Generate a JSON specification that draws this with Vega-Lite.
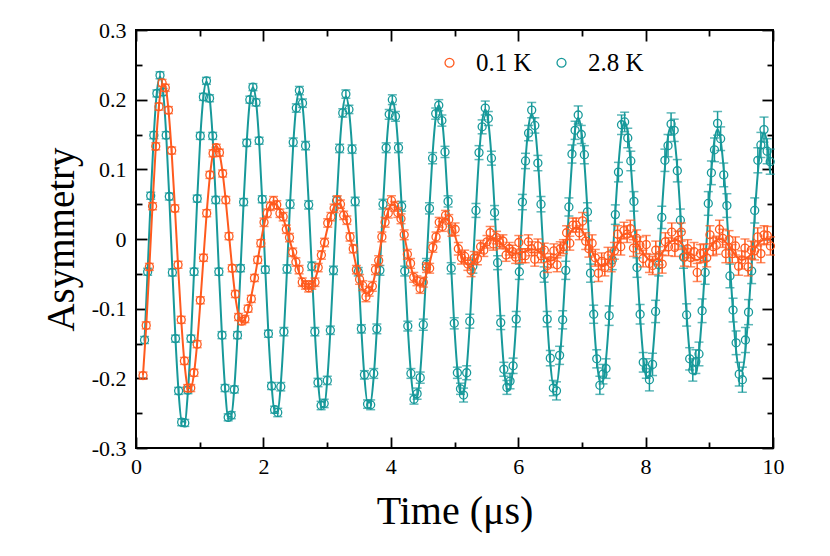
{
"$schema":"https://vega.github.io/schema/vega-lite/v6.json",
"width":637,"height":418,
"autosize":{"type":"none"},
"padding":{"left":136,"top":30,"right":57,"bottom":108},
"background":"white",
"config":{
 "font":"Liberation Serif",
 "view":{"stroke":"#000","strokeWidth":2},
 "axis":{"domain":false,"grid":false,"labelFont":"Liberation Serif","titleFont":"Liberation Serif","labelFontSize":22,"labelColor":"#000","titleColor":"#000","tickColor":"#000","tickWidth":1.8,"titleFontWeight":"normal","labelOverlap":false,"labelFlush":false},
 "legend":{"labelFont":"Liberation Serif","labelFontSize":25,"labelColor":"#000"}
},
"resolve":{"axis":{"x":"independent","y":"independent"}},
"datasets":{
"c":[
{"t":0.134,"a":-0.145,"e":0.005,"f":-0.146},{"t":0.183,"a":-0.047,"e":0.005,"f":-0.045},{"t":0.231,"a":0.062,"e":0.005,"f":0.059},{"t":0.280,"a":0.149,"e":0.005,"f":0.150},{"t":0.328,"a":0.209,"e":0.005,"f":0.211},{"t":0.377,"a":0.235,"e":0.005,"f":0.233},{"t":0.426,"a":0.211,"e":0.005,"f":0.211},{"t":0.474,"a":0.149,"e":0.005,"f":0.150},{"t":0.523,"a":0.061,"e":0.005,"f":0.059},{"t":0.571,"a":-0.048,"e":0.005,"f":-0.045},{"t":0.620,"a":-0.143,"e":0.005,"f":-0.144},{"t":0.669,"a":-0.218,"e":0.005,"f":-0.220},{"t":0.717,"a":-0.263,"e":0.005,"f":-0.262},
{"t":0.766,"a":-0.264,"e":0.005,"f":-0.262},{"t":0.815,"a":-0.217,"e":0.005,"f":-0.219},{"t":0.863,"a":-0.143,"e":0.005,"f":-0.143},{"t":0.912,"a":-0.047,"e":0.005,"f":-0.045},{"t":0.961,"a":0.058,"e":0.005,"f":0.057},{"t":1.009,"a":0.148,"e":0.005,"f":0.145},{"t":1.058,"a":0.204,"e":0.005,"f":0.204},{"t":1.106,"a":0.227,"e":0.005,"f":0.226},{"t":1.155,"a":0.202,"e":0.005,"f":0.204},{"t":1.204,"a":0.148,"e":0.005,"f":0.145},{"t":1.252,"a":0.056,"e":0.005,"f":0.057},{"t":1.301,"a":-0.047,"e":0.005,"f":-0.045},{"t":1.350,"a":-0.138,"e":0.005,"f":-0.140},{"t":1.398,"a":-0.214,"e":0.005,"f":-0.214},{"t":1.447,"a":-0.256,"e":0.005,"f":-0.255},
{"t":1.495,"a":-0.253,"e":0.005,"f":-0.255},{"t":1.544,"a":-0.216,"e":0.005,"f":-0.213},{"t":1.593,"a":-0.138,"e":0.005,"f":-0.139},{"t":1.641,"a":-0.042,"e":0.005,"f":-0.044},{"t":1.690,"a":0.053,"e":0.005,"f":0.054},{"t":1.739,"a":0.138,"e":0.005,"f":0.140},{"t":1.787,"a":0.200,"e":0.005,"f":0.198},{"t":1.836,"a":0.218,"e":0.005,"f":0.218},{"t":1.884,"a":0.196,"e":0.005,"f":0.198},{"t":1.933,"a":0.141,"e":0.005,"f":0.140},{"t":1.982,"a":0.057,"e":0.005,"f":0.054},{"t":2.030,"a":-0.044,"e":0.005,"f":-0.044},{"t":2.079,"a":-0.136,"e":0.005,"f":-0.137},{"t":2.128,"a":-0.211,"e":0.005,"f":-0.209},{"t":2.176,"a":-0.245,"e":0.005,"f":-0.248},
{"t":2.225,"a":-0.249,"e":0.006,"f":-0.248},{"t":2.273,"a":-0.212,"e":0.006,"f":-0.208},{"t":2.322,"a":-0.133,"e":0.006,"f":-0.135},{"t":2.371,"a":-0.043,"e":0.006,"f":-0.043},{"t":2.419,"a":0.050,"e":0.006,"f":0.052},{"t":2.468,"a":0.139,"e":0.006,"f":0.135},{"t":2.517,"a":0.188,"e":0.006,"f":0.192},{"t":2.565,"a":0.213,"e":0.006,"f":0.212},{"t":2.614,"a":0.195,"e":0.006,"f":0.192},{"t":2.662,"a":0.134,"e":0.006,"f":0.135},{"t":2.711,"a":0.049,"e":0.006,"f":0.052},{"t":2.760,"a":-0.039,"e":0.006,"f":-0.043},{"t":2.808,"a":-0.133,"e":0.006,"f":-0.133},{"t":2.857,"a":-0.206,"e":0.006,"f":-0.203},{"t":2.906,"a":-0.239,"e":0.006,"f":-0.241},
{"t":2.954,"a":-0.236,"e":0.006,"f":-0.241},{"t":3.003,"a":-0.203,"e":0.006,"f":-0.202},{"t":3.051,"a":-0.131,"e":0.006,"f":-0.132},{"t":3.100,"a":-0.045,"e":0.006,"f":-0.042},{"t":3.149,"a":0.055,"e":0.006,"f":0.050},{"t":3.197,"a":0.130,"e":0.006,"f":0.131},{"t":3.246,"a":0.181,"e":0.006,"f":0.185},{"t":3.295,"a":0.208,"e":0.006,"f":0.205},{"t":3.343,"a":0.186,"e":0.006,"f":0.185},{"t":3.392,"a":0.129,"e":0.006,"f":0.131},{"t":3.441,"a":0.054,"e":0.006,"f":0.050},{"t":3.489,"a":-0.047,"e":0.006,"f":-0.042},{"t":3.538,"a":-0.129,"e":0.006,"f":-0.130},{"t":3.586,"a":-0.195,"e":0.006,"f":-0.198},{"t":3.635,"a":-0.237,"e":0.006,"f":-0.235},
{"t":3.684,"a":-0.238,"e":0.007,"f":-0.234},{"t":3.732,"a":-0.193,"e":0.007,"f":-0.197},{"t":3.781,"a":-0.129,"e":0.007,"f":-0.129},{"t":3.829,"a":-0.045,"e":0.007,"f":-0.042},{"t":3.878,"a":0.050,"e":0.007,"f":0.048},{"t":3.927,"a":0.131,"e":0.007,"f":0.126},{"t":3.975,"a":0.179,"e":0.007,"f":0.179},{"t":4.024,"a":0.200,"e":0.007,"f":0.198},{"t":4.073,"a":0.176,"e":0.007,"f":0.179},{"t":4.121,"a":0.131,"e":0.007,"f":0.126},{"t":4.170,"a":0.047,"e":0.007,"f":0.048},{"t":4.219,"a":-0.046,"e":0.007,"f":-0.042},{"t":4.267,"a":-0.125,"e":0.007,"f":-0.127},{"t":4.316,"a":-0.193,"e":0.007,"f":-0.193},{"t":4.364,"a":-0.230,"e":0.007,"f":-0.228},
{"t":4.413,"a":-0.222,"e":0.008,"f":-0.228},{"t":4.462,"a":-0.199,"e":0.008,"f":-0.192},{"t":4.510,"a":-0.123,"e":0.008,"f":-0.125},{"t":4.559,"a":-0.036,"e":0.008,"f":-0.041},{"t":4.607,"a":0.044,"e":0.008,"f":0.046},{"t":4.656,"a":0.116,"e":0.008,"f":0.122},{"t":4.705,"a":0.180,"e":0.008,"f":0.174},{"t":4.753,"a":0.192,"e":0.008,"f":0.192},{"t":4.802,"a":0.170,"e":0.008,"f":0.174},{"t":4.851,"a":0.125,"e":0.008,"f":0.122},{"t":4.899,"a":0.054,"e":0.008,"f":0.046},{"t":4.948,"a":-0.042,"e":0.008,"f":-0.041},{"t":4.996,"a":-0.121,"e":0.008,"f":-0.123},{"t":5.045,"a":-0.192,"e":0.008,"f":-0.187},{"t":5.094,"a":-0.215,"e":0.008,"f":-0.222},
{"t":5.142,"a":-0.224,"e":0.010,"f":-0.222},{"t":5.191,"a":-0.192,"e":0.010,"f":-0.186},{"t":5.240,"a":-0.118,"e":0.010,"f":-0.122},{"t":5.288,"a":-0.039,"e":0.010,"f":-0.040},{"t":5.337,"a":0.041,"e":0.010,"f":0.044},{"t":5.385,"a":0.124,"e":0.010,"f":0.118},{"t":5.434,"a":0.161,"e":0.010,"f":0.168},{"t":5.483,"a":0.188,"e":0.010,"f":0.186},{"t":5.531,"a":0.173,"e":0.010,"f":0.168},{"t":5.580,"a":0.116,"e":0.010,"f":0.118},{"t":5.629,"a":0.038,"e":0.010,"f":0.044},{"t":5.677,"a":-0.034,"e":0.010,"f":-0.040},{"t":5.726,"a":-0.120,"e":0.010,"f":-0.120},{"t":5.775,"a":-0.187,"e":0.010,"f":-0.183},{"t":5.823,"a":-0.213,"e":0.010,"f":-0.216},
{"t":5.872,"a":-0.204,"e":0.011,"f":-0.216},{"t":5.920,"a":-0.182,"e":0.011,"f":-0.181},{"t":5.969,"a":-0.115,"e":0.011,"f":-0.119},{"t":6.018,"a":-0.047,"e":0.011,"f":-0.040},{"t":6.066,"a":0.053,"e":0.011,"f":0.042},{"t":6.115,"a":0.112,"e":0.011,"f":0.114},{"t":6.163,"a":0.152,"e":0.011,"f":0.162},{"t":6.212,"a":0.185,"e":0.011,"f":0.179},{"t":6.261,"a":0.163,"e":0.011,"f":0.162},{"t":6.309,"a":0.109,"e":0.011,"f":0.114},{"t":6.358,"a":0.050,"e":0.011,"f":0.042},{"t":6.407,"a":-0.051,"e":0.011,"f":-0.040},{"t":6.455,"a":-0.115,"e":0.011,"f":-0.117},{"t":6.504,"a":-0.171,"e":0.011,"f":-0.178},{"t":6.552,"a":-0.214,"e":0.011,"f":-0.210},
{"t":6.601,"a":-0.218,"e":0.013,"f":-0.210},{"t":6.650,"a":-0.167,"e":0.013,"f":-0.177},{"t":6.698,"a":-0.116,"e":0.013,"f":-0.116},{"t":6.747,"a":-0.045,"e":0.013,"f":-0.039},{"t":6.796,"a":0.046,"e":0.013,"f":0.041},{"t":6.844,"a":0.122,"e":0.013,"f":0.110},{"t":6.893,"a":0.156,"e":0.013,"f":0.157},{"t":6.942,"a":0.178,"e":0.013,"f":0.174},{"t":6.990,"a":0.150,"e":0.013,"f":0.157},{"t":7.039,"a":0.121,"e":0.013,"f":0.110},{"t":7.087,"a":0.039,"e":0.013,"f":0.041},{"t":7.136,"a":-0.049,"e":0.013,"f":-0.039},{"t":7.185,"a":-0.108,"e":0.013,"f":-0.114},{"t":7.233,"a":-0.172,"e":0.013,"f":-0.173},{"t":7.282,"a":-0.210,"e":0.013,"f":-0.205},
{"t":7.331,"a":-0.194,"e":0.014,"f":-0.204},{"t":7.379,"a":-0.186,"e":0.014,"f":-0.172},{"t":7.428,"a":-0.110,"e":0.014,"f":-0.113},{"t":7.476,"a":-0.030,"e":0.014,"f":-0.039},{"t":7.525,"a":0.035,"e":0.014,"f":0.039},{"t":7.574,"a":0.096,"e":0.014,"f":0.106},{"t":7.622,"a":0.164,"e":0.014,"f":0.152},{"t":7.671,"a":0.168,"e":0.014,"f":0.168},{"t":7.720,"a":0.145,"e":0.014,"f":0.152},{"t":7.768,"a":0.112,"e":0.014,"f":0.106},{"t":7.817,"a":0.054,"e":0.014,"f":0.039},{"t":7.865,"a":-0.041,"e":0.014,"f":-0.039},{"t":7.914,"a":-0.108,"e":0.014,"f":-0.112},{"t":7.963,"a":-0.177,"e":0.014,"f":-0.168},{"t":8.011,"a":-0.186,"e":0.014,"f":-0.199},
{"t":8.060,"a":-0.202,"e":0.016,"f":-0.199},{"t":8.109,"a":-0.180,"e":0.016,"f":-0.168},{"t":8.157,"a":-0.104,"e":0.016,"f":-0.111},{"t":8.206,"a":-0.037,"e":0.016,"f":-0.038},{"t":8.254,"a":0.031,"e":0.016,"f":0.037},{"t":8.303,"a":0.113,"e":0.016,"f":0.102},{"t":8.352,"a":0.134,"e":0.016,"f":0.147},{"t":8.400,"a":0.165,"e":0.016,"f":0.162},{"t":8.449,"a":0.156,"e":0.016,"f":0.147},{"t":8.498,"a":0.098,"e":0.016,"f":0.102},{"t":8.546,"a":0.027,"e":0.016,"f":0.037},{"t":8.595,"a":-0.026,"e":0.016,"f":-0.038},{"t":8.644,"a":-0.109,"e":0.016,"f":-0.109},{"t":8.692,"a":-0.172,"e":0.016,"f":-0.164},{"t":8.741,"a":-0.188,"e":0.016,"f":-0.194},
{"t":8.789,"a":-0.176,"e":0.017,"f":-0.194},{"t":8.838,"a":-0.165,"e":0.017,"f":-0.163},{"t":8.887,"a":-0.103,"e":0.017,"f":-0.108},{"t":8.935,"a":-0.048,"e":0.017,"f":-0.037},{"t":8.984,"a":0.051,"e":0.017,"f":0.035},{"t":9.033,"a":0.095,"e":0.017,"f":0.099},{"t":9.081,"a":0.128,"e":0.017,"f":0.142},{"t":9.130,"a":0.166,"e":0.017,"f":0.157},{"t":9.178,"a":0.144,"e":0.017,"f":0.142},{"t":9.227,"a":0.092,"e":0.017,"f":0.099},{"t":9.276,"a":0.048,"e":0.017,"f":0.035},{"t":9.324,"a":-0.053,"e":0.017,"f":-0.037},{"t":9.373,"a":-0.102,"e":0.017,"f":-0.106},{"t":9.421,"a":-0.149,"e":0.017,"f":-0.160},{"t":9.470,"a":-0.194,"e":0.017,"f":-0.189},
{"t":9.519,"a":-0.202,"e":0.018,"f":-0.189},{"t":9.567,"a":-0.145,"e":0.018,"f":-0.159},{"t":9.616,"a":-0.105,"e":0.018,"f":-0.105},{"t":9.665,"a":-0.046,"e":0.018,"f":-0.037},{"t":9.713,"a":0.041,"e":0.018,"f":0.034},{"t":9.762,"a":0.113,"e":0.018,"f":0.095},{"t":9.810,"a":0.135,"e":0.018,"f":0.137},{"t":9.859,"a":0.157,"e":0.018,"f":0.152},{"t":9.908,"a":0.126,"e":0.018,"f":0.137},{"t":9.956,"a":0.111,"e":0.018,"f":0.095}
],
"o":[
{"t":0.11,"a":-0.196,"e":0.005,"f":-0.195},{"t":0.16,"a":-0.124,"e":0.005,"f":-0.126},{"t":0.21,"a":-0.040,"e":0.005,"f":-0.040},{"t":0.26,"a":0.047,"e":0.005,"f":0.050},{"t":0.31,"a":0.133,"e":0.005,"f":0.131},{"t":0.36,"a":0.190,"e":0.005,"f":0.191},{"t":0.41,"a":0.224,"e":0.005,"f":0.222},{"t":0.46,"a":0.217,"e":0.005,"f":0.219},{"t":0.51,"a":0.185,"e":0.005,"f":0.185},{"t":0.56,"a":0.127,"e":0.005,"f":0.124},
{"t":0.61,"a":0.044,"e":0.005,"f":0.046},{"t":0.66,"a":-0.037,"e":0.005,"f":-0.038},{"t":0.71,"a":-0.116,"e":0.005,"f":-0.116},{"t":0.76,"a":-0.175,"e":0.005,"f":-0.177},{"t":0.81,"a":-0.214,"e":0.005,"f":-0.211},{"t":0.86,"a":-0.214,"e":0.005,"f":-0.215},{"t":0.91,"a":-0.192,"e":0.005,"f":-0.193},{"t":0.96,"a":-0.151,"e":0.005,"f":-0.150},{"t":1.01,"a":-0.088,"e":0.005,"f":-0.091},{"t":1.06,"a":-0.027,"e":0.005,"f":-0.026},
{"t":1.11,"a":0.037,"e":0.005,"f":0.038},{"t":1.16,"a":0.092,"e":0.005,"f":0.090},{"t":1.21,"a":0.123,"e":0.005,"f":0.123},{"t":1.26,"a":0.131,"e":0.005,"f":0.134},{"t":1.31,"a":0.124,"e":0.005,"f":0.123},{"t":1.36,"a":0.094,"e":0.005,"f":0.095},{"t":1.41,"a":0.056,"e":0.005,"f":0.054},{"t":1.46,"a":0.004,"e":0.005,"f":0.006},{"t":1.51,"a":-0.042,"e":0.005,"f":-0.042},{"t":1.56,"a":-0.079,"e":0.005,"f":-0.083},
{"t":1.61,"a":-0.112,"e":0.005,"f":-0.109},{"t":1.66,"a":-0.118,"e":0.005,"f":-0.119},{"t":1.71,"a":-0.115,"e":0.005,"f":-0.115},{"t":1.76,"a":-0.100,"e":0.005,"f":-0.102},{"t":1.81,"a":-0.086,"e":0.005,"f":-0.082},{"t":1.86,"a":-0.056,"e":0.005,"f":-0.058},{"t":1.91,"a":-0.030,"e":0.005,"f":-0.031},{"t":1.96,"a":-0.006,"e":0.005,"f":-0.004},{"t":2.01,"a":0.024,"e":0.006,"f":0.020},{"t":2.06,"a":0.037,"e":0.006,"f":0.038},
{"t":2.11,"a":0.047,"e":0.006,"f":0.049},{"t":2.16,"a":0.055,"e":0.006,"f":0.052},{"t":2.21,"a":0.049,"e":0.006,"f":0.049},{"t":2.26,"a":0.037,"e":0.006,"f":0.041},{"t":2.31,"a":0.032,"e":0.006,"f":0.030},{"t":2.36,"a":0.014,"e":0.006,"f":0.015},{"t":2.41,"a":0.002,"e":0.006,"f":-0.001},{"t":2.46,"a":-0.019,"e":0.006,"f":-0.017},{"t":2.51,"a":-0.033,"e":0.006,"f":-0.033},{"t":2.56,"a":-0.044,"e":0.006,"f":-0.048},
{"t":2.61,"a":-0.062,"e":0.006,"f":-0.059},{"t":2.66,"a":-0.066,"e":0.006,"f":-0.067},{"t":2.71,"a":-0.070,"e":0.006,"f":-0.070},{"t":2.76,"a":-0.066,"e":0.006,"f":-0.068},{"t":2.81,"a":-0.062,"e":0.006,"f":-0.058},{"t":2.86,"a":-0.041,"e":0.006,"f":-0.043},{"t":2.91,"a":-0.023,"e":0.006,"f":-0.024},{"t":2.96,"a":-0.005,"e":0.006,"f":-0.003},{"t":3.01,"a":0.023,"e":0.006,"f":0.017},{"t":3.06,"a":0.032,"e":0.006,"f":0.034},
{"t":3.11,"a":0.044,"e":0.006,"f":0.046},{"t":3.16,"a":0.056,"e":0.006,"f":0.051},{"t":3.21,"a":0.050,"e":0.006,"f":0.049},{"t":3.26,"a":0.034,"e":0.006,"f":0.039},{"t":3.31,"a":0.027,"e":0.006,"f":0.024},{"t":3.36,"a":0.003,"e":0.006,"f":0.004},{"t":3.41,"a":-0.014,"e":0.006,"f":-0.018},{"t":3.46,"a":-0.044,"e":0.006,"f":-0.040},{"t":3.51,"a":-0.058,"e":0.007,"f":-0.058},{"t":3.56,"a":-0.067,"e":0.007,"f":-0.072},
{"t":3.61,"a":-0.083,"e":0.007,"f":-0.078},{"t":3.66,"a":-0.075,"e":0.007,"f":-0.077},{"t":3.71,"a":-0.068,"e":0.007,"f":-0.067},{"t":3.76,"a":-0.044,"e":0.007,"f":-0.048},{"t":3.81,"a":-0.031,"e":0.007,"f":-0.025},{"t":3.86,"a":0.003,"e":0.007,"f":0.001},{"t":3.91,"a":0.024,"e":0.007,"f":0.023},{"t":3.96,"a":0.037,"e":0.007,"f":0.040},{"t":4.01,"a":0.055,"e":0.007,"f":0.049},{"t":4.06,"a":0.047,"e":0.007,"f":0.049},
{"t":4.11,"a":0.038,"e":0.007,"f":0.040},{"t":4.16,"a":0.029,"e":0.007,"f":0.024},{"t":4.21,"a":0.006,"e":0.007,"f":0.005},{"t":4.26,"a":-0.022,"e":0.007,"f":-0.017},{"t":4.31,"a":-0.035,"e":0.007,"f":-0.038},{"t":4.36,"a":-0.055,"e":0.007,"f":-0.054},{"t":4.41,"a":-0.060,"e":0.007,"f":-0.064},{"t":4.46,"a":-0.071,"e":0.007,"f":-0.067},{"t":4.51,"a":-0.062,"e":0.007,"f":-0.062},{"t":4.56,"a":-0.041,"e":0.007,"f":-0.050},
{"t":4.61,"a":-0.042,"e":0.007,"f":-0.034},{"t":4.66,"a":-0.012,"e":0.007,"f":-0.015},{"t":4.71,"a":0.003,"e":0.007,"f":0.004},{"t":4.76,"a":0.024,"e":0.007,"f":0.018},{"t":4.81,"a":0.018,"e":0.007,"f":0.028},{"t":4.86,"a":0.034,"e":0.007,"f":0.030},{"t":4.91,"a":0.028,"e":0.007,"f":0.026},{"t":4.96,"a":0.011,"e":0.007,"f":0.016},{"t":5.01,"a":0.014,"e":0.009,"f":0.004},{"t":5.06,"a":-0.014,"e":0.009,"f":-0.011},
{"t":5.11,"a":-0.027,"e":0.009,"f":-0.023},{"t":5.16,"a":-0.025,"e":0.009,"f":-0.033},{"t":5.21,"a":-0.036,"e":0.009,"f":-0.037},{"t":5.26,"a":-0.045,"e":0.009,"f":-0.036},{"t":5.31,"a":-0.027,"e":0.009,"f":-0.032},{"t":5.36,"a":-0.028,"e":0.009,"f":-0.026},{"t":5.41,"a":-0.011,"e":0.009,"f":-0.018},{"t":5.46,"a":-0.016,"e":0.009,"f":-0.010},{"t":5.51,"a":-0.004,"e":0.009,"f":-0.004},{"t":5.56,"a":0.009,"e":0.009,"f":0.000},
{"t":5.61,"a":-0.007,"e":0.009,"f":0.001},{"t":5.66,"a":0.002,"e":0.009,"f":-0.001},{"t":5.71,"a":-0.005,"e":0.009,"f":-0.004},{"t":5.76,"a":-0.003,"e":0.009,"f":-0.009},{"t":5.81,"a":-0.023,"e":0.009,"f":-0.013},{"t":5.86,"a":-0.014,"e":0.009,"f":-0.018},{"t":5.91,"a":-0.018,"e":0.009,"f":-0.020},{"t":5.96,"a":-0.026,"e":0.009,"f":-0.021},{"t":6.01,"a":-0.005,"e":0.010,"f":-0.020},{"t":6.06,"a":-0.024,"e":0.010,"f":-0.019},
{"t":6.11,"a":-0.024,"e":0.010,"f":-0.018},{"t":6.16,"a":-0.004,"e":0.010,"f":-0.016},{"t":6.21,"a":-0.014,"e":0.010,"f":-0.015},{"t":6.26,"a":-0.029,"e":0.010,"f":-0.015},{"t":6.31,"a":-0.010,"e":0.010,"f":-0.017},{"t":6.36,"a":-0.024,"e":0.010,"f":-0.021},{"t":6.41,"a":-0.016,"e":0.010,"f":-0.026},{"t":6.46,"a":-0.038,"e":0.010,"f":-0.029},{"t":6.51,"a":-0.031,"e":0.010,"f":-0.031},{"t":6.56,"a":-0.017,"e":0.010,"f":-0.030},
{"t":6.61,"a":-0.037,"e":0.010,"f":-0.025},{"t":6.66,"a":-0.014,"e":0.010,"f":-0.018},{"t":6.71,"a":-0.011,"e":0.010,"f":-0.009},{"t":6.76,"a":0.009,"e":0.010,"f":0.000},{"t":6.81,"a":-0.006,"e":0.010,"f":0.009},{"t":6.86,"a":0.020,"e":0.010,"f":0.014},{"t":6.91,"a":0.020,"e":0.010,"f":0.017},{"t":6.96,"a":0.009,"e":0.010,"f":0.016},{"t":7.01,"a":0.026,"e":0.012,"f":0.011},{"t":7.06,"a":-0.003,"e":0.012,"f":0.002},
{"t":7.11,"a":-0.014,"e":0.012,"f":-0.008},{"t":7.16,"a":-0.006,"e":0.012,"f":-0.018},{"t":7.21,"a":-0.027,"e":0.012,"f":-0.028},{"t":7.26,"a":-0.049,"e":0.012,"f":-0.035},{"t":7.31,"a":-0.032,"e":0.012,"f":-0.039},{"t":7.36,"a":-0.041,"e":0.012,"f":-0.038},{"t":7.41,"a":-0.024,"e":0.012,"f":-0.034},{"t":7.46,"a":-0.035,"e":0.012,"f":-0.026},{"t":7.51,"a":-0.017,"e":0.012,"f":-0.017},{"t":7.56,"a":0.007,"e":0.012,"f":-0.007},
{"t":7.61,"a":-0.011,"e":0.012,"f":0.001},{"t":7.66,"a":0.012,"e":0.012,"f":0.007},{"t":7.71,"a":0.007,"e":0.012,"f":0.008},{"t":7.76,"a":0.015,"e":0.012,"f":0.006},{"t":7.81,"a":-0.013,"e":0.012,"f":0.002},{"t":7.86,"a":0.001,"e":0.012,"f":-0.005},{"t":7.91,"a":-0.009,"e":0.012,"f":-0.012},{"t":7.96,"a":-0.028,"e":0.012,"f":-0.020},{"t":8.01,"a":-0.008,"e":0.013,"f":-0.026},{"t":8.06,"a":-0.035,"e":0.013,"f":-0.030},
{"t":8.11,"a":-0.038,"e":0.013,"f":-0.031},{"t":8.16,"a":-0.016,"e":0.013,"f":-0.030},{"t":8.21,"a":-0.024,"e":0.013,"f":-0.026},{"t":8.26,"a":-0.036,"e":0.013,"f":-0.020},{"t":8.31,"a":-0.004,"e":0.013,"f":-0.013},{"t":8.36,"a":-0.011,"e":0.013,"f":-0.007},{"t":8.41,"a":0.010,"e":0.013,"f":-0.003},{"t":8.46,"a":-0.012,"e":0.013,"f":-0.001},{"t":8.51,"a":-0.002,"e":0.013,"f":-0.002},{"t":8.56,"a":0.010,"e":0.013,"f":-0.006},
{"t":8.61,"a":-0.026,"e":0.013,"f":-0.012},{"t":8.66,"a":-0.014,"e":0.013,"f":-0.019},{"t":8.71,"a":-0.027,"e":0.013,"f":-0.025},{"t":8.76,"a":-0.018,"e":0.013,"f":-0.029},{"t":8.81,"a":-0.048,"e":0.013,"f":-0.030},{"t":8.86,"a":-0.021,"e":0.013,"f":-0.028},{"t":8.91,"a":-0.020,"e":0.013,"f":-0.024},{"t":8.96,"a":-0.027,"e":0.013,"f":-0.018},{"t":9.01,"a":0.006,"e":0.013,"f":-0.012},{"t":9.06,"a":-0.011,"e":0.013,"f":-0.006},
{"t":9.11,"a":-0.009,"e":0.013,"f":-0.002},{"t":9.16,"a":0.014,"e":0.013,"f":0.000},{"t":9.21,"a":0.001,"e":0.013,"f":-0.001},{"t":9.26,"a":-0.021,"e":0.013,"f":-0.005},{"t":9.31,"a":-0.001,"e":0.013,"f":-0.010},{"t":9.36,"a":-0.021,"e":0.013,"f":-0.017},{"t":9.41,"a":-0.010,"e":0.013,"f":-0.023},{"t":9.46,"a":-0.039,"e":0.013,"f":-0.028},{"t":9.51,"a":-0.030,"e":0.013,"f":-0.030},{"t":9.56,"a":-0.013,"e":0.013,"f":-0.029},
{"t":9.61,"a":-0.040,"e":0.013,"f":-0.026},{"t":9.66,"a":-0.016,"e":0.013,"f":-0.021},{"t":9.71,"a":-0.017,"e":0.013,"f":-0.015},{"t":9.76,"a":0.003,"e":0.013,"f":-0.008},{"t":9.81,"a":-0.021,"e":0.013,"f":-0.003},{"t":9.86,"a":0.006,"e":0.013,"f":-0.001},{"t":9.91,"a":0.005,"e":0.013,"f":0.001},{"t":9.96,"a":-0.010,"e":0.013,"f":-0.001}
]
},
"layer":[
{"data":{"name":"c"},
 "mark":{"type":"errorbar","color":"#17999a","thickness":1.5,"ticks":{"size":9,"thickness":1.5}},
 "encoding":{
  "x":{"field":"t","type":"quantitative","scale":{"domain":[0,10],"nice":false},
   "axis":{"orient":"bottom","values":[0,1,2,3,4,5,6,7,8,9,10],"labelExpr":"datum.value % 2 == 0 ? format(datum.value, 'd') : ''","tickSize":{"condition":{"test":"datum.value % 2 == 0","value":-11},"value":-6},"labelPadding":19,"labelFont":"Liberation Serif","titleFont":"Liberation Serif","title":"Time (μs)","titleFontSize":40,"titlePadding":9}},
  "y":{"field":"a","type":"quantitative","scale":{"domain":[-0.3,0.3],"nice":false},
   "axis":{"orient":"left","values":[-0.3,-0.25,-0.2,-0.15,-0.1,-0.05,0,0.05,0.1,0.15,0.2,0.25,0.3],"labelExpr":"abs(round(datum.value*20)) % 2 == 0 ? (abs(datum.value) < 0.001 ? '0' : (datum.value < 0 ? '-' : '') + format(abs(datum.value), '.1f')) : ''","tickSize":{"condition":{"test":"abs(round(datum.value*20)) % 2 == 0","value":-11},"value":-6},"labelPadding":21,"labelFont":"Liberation Serif","titleFont":"Liberation Serif","title":"Asymmetry","titleFontSize":39,"titlePadding":10}},
  "yError":{"field":"e"}}},
{"data":{"name":"c"},
 "mark":{"type":"point","filled":false,"size":64,"strokeWidth":1.3,"opacity":1},
 "encoding":{
  "x":{"field":"t","type":"quantitative","scale":{"domain":[0,10],"nice":false},
   "axis":{"orient":"top","values":[0,1,2,3,4,5,6,7,8,9,10],"labels":false,"title":null,"tickSize":{"condition":{"test":"datum.value % 2 == 0","value":-11},"value":-6}}},
  "y":{"field":"a","type":"quantitative","scale":{"domain":[-0.3,0.3],"nice":false},
   "axis":{"orient":"right","values":[-0.3,-0.25,-0.2,-0.15,-0.1,-0.05,0,0.05,0.1,0.15,0.2,0.25,0.3],"labels":false,"title":null,"tickSize":{"condition":{"test":"abs(round(datum.value*20)) % 2 == 0","value":-11},"value":-6}}},
  "color":{"datum":"2.8 K","type":"nominal","scale":{"domain":["0.1 K","2.8 K"],"range":["#ff5a1e","#17999a"]},
   "legend":{"orient":"none","legendX":301,"legendY":20,"direction":"horizontal","title":null,"symbolType":"circle","symbolSize":80,"symbolStrokeWidth":1.3,"labelOffset":14,"columnPadding":17,"labelFont":"Liberation Serif","labelFontSize":25,"labelColor":"#000"}}}},
{"data":{"name":"c"},
 "mark":{"type":"line","color":"#17999a","strokeWidth":2,"interpolate":"monotone"},
 "encoding":{"x":{"field":"t","type":"quantitative","axis":null},"y":{"field":"f","type":"quantitative","axis":null}}},
{"data":{"name":"o"},
 "mark":{"type":"errorbar","color":"#ff5a1e","thickness":1.5,"ticks":{"size":9,"thickness":1.5}},
 "encoding":{"x":{"field":"t","type":"quantitative","axis":null},"y":{"field":"a","type":"quantitative","axis":null},"yError":{"field":"e"}}},
{"data":{"name":"o"},
 "mark":{"type":"point","filled":false,"size":64,"strokeWidth":1.3,"opacity":1},
 "encoding":{"x":{"field":"t","type":"quantitative","axis":null},"y":{"field":"a","type":"quantitative","axis":null},
  "color":{"datum":"0.1 K","type":"nominal"}}},
{"data":{"name":"o"},
 "mark":{"type":"line","color":"#ff5a1e","strokeWidth":2,"interpolate":"monotone"},
 "encoding":{"x":{"field":"t","type":"quantitative","axis":null},"y":{"field":"f","type":"quantitative","axis":null}}}
]
}
